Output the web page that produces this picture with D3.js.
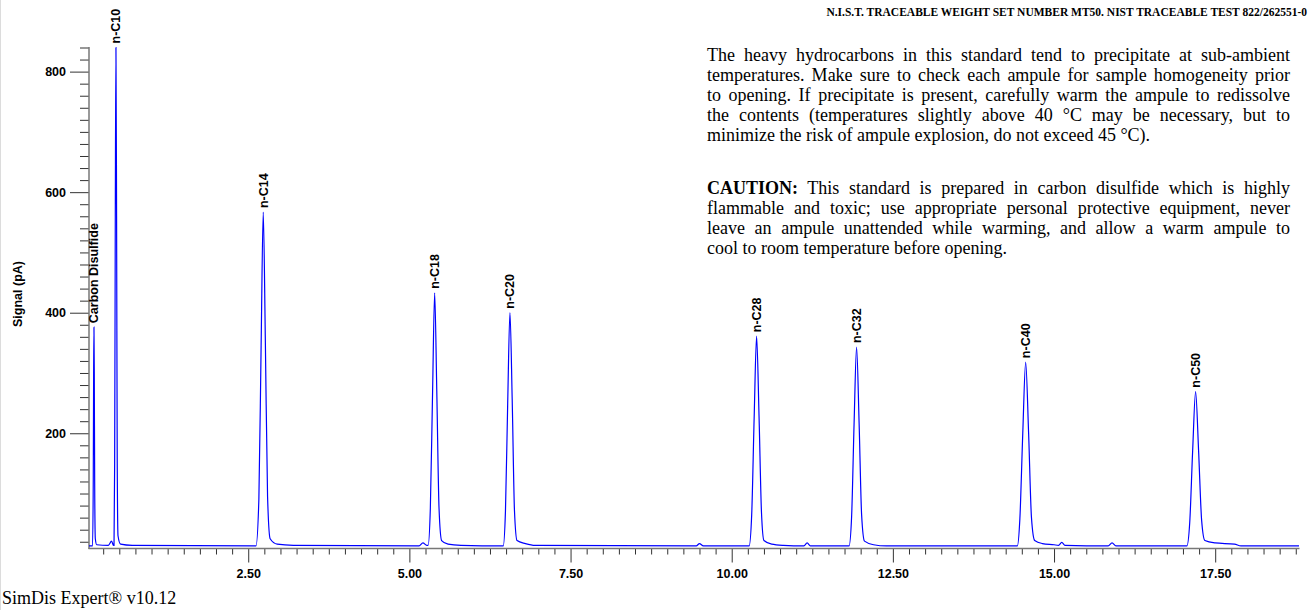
<!DOCTYPE html>
<html>
<head>
<meta charset="utf-8">
<script src="https://cdn.jsdelivr.net/npm/d3@7"></script>
<style>
  html, body { margin: 0; padding: 0; background: #fff; }
  svg { display: block; }
</style>
</head>
<body>
<script>
// retention time (min) and signal (pA)
var traceTime = [
  0.03, 0.085, 0.096, 0.102, 0.107, 0.112, 0.118, 0.128, 0.15,
  0.33, 0.38, 0.41,
  0.418, 0.428, 0.438, 0.448, 0.458, 0.468, 0.48, 0.52, 0.7,
  2.62, 2.665, 2.70, 2.733, 2.766, 2.80, 2.84, 2.95, 3.2,
  5.15, 5.21, 5.27,
  5.29, 5.325, 5.36, 5.392, 5.425, 5.46, 5.50, 5.6, 5.8,
  6.455, 6.49, 6.525, 6.56, 6.595, 6.63, 6.67, 6.8, 6.95,
  9.45, 9.5, 9.56,
  10.27, 10.31, 10.348, 10.386, 10.424, 10.462, 10.5, 10.62, 10.8,
  11.12, 11.17, 11.22,
  11.82, 11.86, 11.898, 11.937, 11.976, 12.015, 12.06, 12.2, 12.4,
  14.43, 14.47, 14.515, 14.56, 14.605, 14.65, 14.7, 14.82, 15.0,
  15.07, 15.12, 15.17,
  15.84, 15.9, 15.96,
  17.06, 17.105, 17.15, 17.196, 17.242, 17.29, 17.34, 17.5, 17.8, 17.9,
  18.8
];
var traceSignal = [
  13, 13, 120, 300, 376, 300, 120, 25, 15,
  14, 21, 14,
  14, 150, 560, 840, 560, 150, 30, 16, 14,
  13, 90, 345, 567, 350, 95, 25, 16, 14,
  13, 18, 14,
  14, 75, 270, 433, 270, 75, 22, 16, 14,
  13, 70, 250, 400, 255, 72, 22, 17, 14,
  13, 17, 13,
  13, 65, 225, 361, 228, 68, 22, 16, 14,
  13, 18, 13,
  13, 62, 215, 343, 218, 65, 21, 15, 13,
  13, 58, 200, 318, 202, 60, 22, 17, 15,
  14, 19, 14,
  13, 18, 13,
  13, 52, 170, 269, 172, 55, 22, 18, 16, 13,
  13
];

var peakNames = ['Carbon Disulfide', 'n-C10', 'n-C14', 'n-C18', 'n-C20', 'n-C28', 'n-C32', 'n-C40', 'n-C50'];
var peakTimes = [0.107, 0.448, 2.733, 5.392, 6.56, 10.386, 11.937, 14.56, 17.196];
var peakHeights = [376, 840, 567, 433, 400, 361, 343, 318, 269];

var xMajorTicks = [2.5, 5, 7.5, 10, 12.5, 15, 17.5];
var yMajorTicks = [200, 400, 600, 800];

var titleText = 'N.I.S.T. TRACEABLE WEIGHT SET NUMBER MT50. NIST TRACEABLE TEST 822/262551-0';
var noteLines = [
  'The heavy hydrocarbons in this standard tend to precipitate at sub-ambient',
  'temperatures. Make sure to check each ampule for sample homogeneity prior',
  'to opening. If precipitate is present, carefully warm the ampule to redissolve',
  'the contents (temperatures slightly above 40 \u00B0C may be necessary, but to',
  'minimize the risk of ampule explosion, do not exceed 45 \u00B0C).'
];
var cautionLines = [
  ' This standard is prepared in carbon disulfide which is highly',
  'flammable and toxic; use appropriate personal protective equipment, never',
  'leave an ampule unattended while warming, and allow a warm ampule to',
  'cool to room temperature before opening.'
];
var footerText = 'SimDis Expert\u00AE v10.12';

var width = 1309, height = 610;
var sans = "'Liberation Sans', Arial, sans-serif";
var serif = "'Liberation Serif', 'Times New Roman', serif";

var svg = d3.select('body').append('svg')
  .attr('width', width)
  .attr('height', height);

// faint frame line on the left edge
svg.append('line')
  .attr('x1', 0.5).attr('x2', 0.5).attr('y1', 0).attr('y2', height)
  .attr('stroke', '#dcdcdc');

var x = d3.scaleLinear().domain([0.03, 18.8]).range([89, 1299]);
var y = d3.scaleLinear().domain([8.8, 841]).range([548.5, 46.9]);

// minor ticks
var xMinor = d3.range(1, 76).map(function(i) { return i * 0.25; })
  .filter(function(v) { return xMajorTicks.indexOf(v) < 0; });
var yMinor = d3.range(1, 43).map(function(i) { return i * 20; })
  .filter(function(v) { return yMajorTicks.indexOf(v) < 0; });

function styleAxis(g) {
  g.select('.domain').remove();
  g.selectAll('.tick line').attr('stroke', '#333');
  g.selectAll('.tick text')
    .attr('fill', '#000')
    .style('font-family', sans)
    .style('font-size', '12.5px')
    .style('font-weight', 'bold');
}

svg.append('g')
  .attr('transform', 'translate(0,548.5)')
  .call(d3.axisBottom(x).tickValues(xMinor).tickSize(6).tickFormat(''))
  .call(styleAxis);
svg.append('g')
  .attr('transform', 'translate(0,548.5)')
  .call(d3.axisBottom(x).tickValues(xMajorTicks).tickSize(14).tickPadding(6.5).tickFormat(d3.format('.2f')))
  .call(styleAxis);

svg.append('g')
  .attr('transform', 'translate(89,0)')
  .call(d3.axisLeft(y).tickValues(yMinor).tickSize(9).tickFormat(''))
  .call(styleAxis);
svg.append('g')
  .attr('transform', 'translate(89,0)')
  .call(d3.axisLeft(y).tickValues(yMajorTicks).tickSize(19).tickPadding(4).tickFormat(d3.format('d')))
  .call(styleAxis);

// axis lines
svg.append('line')
  .attr('x1', 89).attr('x2', 89).attr('y1', y(841)).attr('y2', 549)
  .attr('stroke', '#777').attr('stroke-width', 1.5);
svg.append('line')
  .attr('x1', 88.5).attr('x2', 1299.5).attr('y1', 548.5).attr('y2', 548.5)
  .attr('stroke', '#777').attr('stroke-width', 1.5);

// y axis title
svg.append('text')
  .attr('transform', 'translate(22,294) rotate(-90)')
  .attr('text-anchor', 'middle')
  .style('font-family', sans)
  .style('font-size', '12.5px')
  .style('font-weight', 'bold')
  .text('Signal (pA)');

// chromatogram trace
var points = traceTime.map(function(t, i) { return [t, traceSignal[i]]; });
var line = d3.line()
  .x(function(d) { return x(d[0]); })
  .y(function(d) { return y(d[1]); })
  .curve(d3.curveMonotoneX);

svg.append('path')
  .datum(points)
  .attr('d', line)
  .attr('fill', 'none')
  .attr('stroke', '#0000ff')
  .attr('stroke-width', 1.2);

// peak labels
svg.selectAll('.peak-label')
  .data(peakNames)
  .enter()
  .append('text')
  .attr('class', 'peak-label')
  .attr('transform', function(d, i) {
    return 'translate(' + (x(peakTimes[i]) + 4.5) + ',' + (y(peakHeights[i]) - 4) + ') rotate(-90)';
  })
  .style('font-family', sans)
  .style('font-size', '12.5px')
  .style('font-weight', 'bold')
  .text(function(d) { return d; });

// header
svg.append('text')
  .attr('x', 1307)
  .attr('y', 16)
  .attr('text-anchor', 'end')
  .style('font-family', serif)
  .style('font-size', '11.5px')
  .style('font-weight', 'bold')
  .text(titleText);

// justified note paragraphs
var noteLeft = 707, noteWidth = 583;
function justify(textEl, isLast) {
  if (isLast) return;
  var str = textEl.text();
  var spaces = (str.match(/ /g) || []).length;
  var natural = textEl.node().getComputedTextLength();
  if (spaces > 0) textEl.attr('word-spacing', (noteWidth - natural) / spaces);
}

noteLines.forEach(function(s, i) {
  var t = svg.append('text')
    .attr('x', noteLeft)
    .attr('y', 60.7 + i * 20)
    .style('font-family', serif)
    .style('font-size', '18px')
    .text(s);
  justify(t, i === noteLines.length - 1);
});

cautionLines.forEach(function(s, i) {
  var t = svg.append('text')
    .attr('x', noteLeft)
    .attr('y', 194 + i * 20)
    .style('font-family', serif)
    .style('font-size', '18px');
  if (i === 0) {
    t.append('tspan').style('font-weight', 'bold').text('CAUTION:');
    t.append('tspan').text(s);
  } else {
    t.text(s);
  }
  justify(t, i === cautionLines.length - 1);
});

// footer
svg.append('text')
  .attr('x', 2)
  .attr('y', 603.5)
  .style('font-family', serif)
  .style('font-size', '18px')
  .text(footerText);
</script>
</body>
</html>
